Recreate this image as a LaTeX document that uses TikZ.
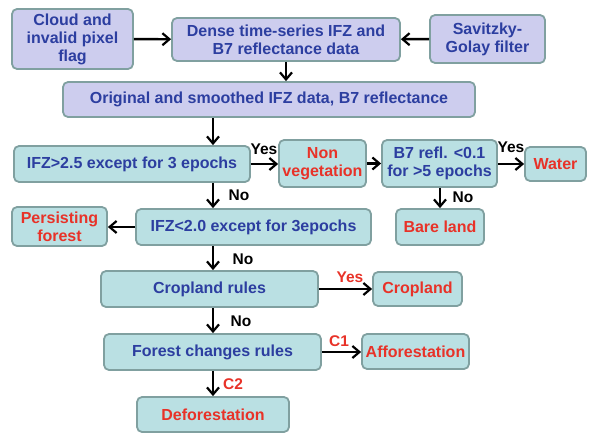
\documentclass[tikz,border=0pt]{standalone}
\usepackage{fontspec}
\setmainfont{Liberation Sans}
\usetikzlibrary{arrows.meta}
\definecolor{lav}{RGB}{205,205,238}
\definecolor{teal1}{RGB}{186,224,227}
\definecolor{bord}{RGB}{128,160,160}
\definecolor{tblue}{RGB}{44,62,160}
\definecolor{tred}{RGB}{232,50,40}
\tikzset{
  box/.style={draw=bord, line width=1.8pt, rounded corners=5pt, align=center, font=\bfseries\fontsize{16}{18}\selectfont, inner sep=0pt, anchor=center},
  pbox/.style={box, fill=lav, text=tblue},
  tbox/.style={box, fill=teal1, text=tblue},
  rbox/.style={box, fill=teal1, text=tred},
  arr/.style={line width=2.4pt, -{Straight Barb[length=7pt,width=12pt,line width=2.2pt]}},
  lbl/.style={font=\bfseries\fontsize{15.5}{16}\selectfont, text=black, inner sep=0pt},
  rlbl/.style={lbl, text=tred}
}
\begin{document}
\begin{tikzpicture}[x=1pt,y=-1pt]
\useasboundingbox (0,0) rectangle (589,433);
\node[pbox, minimum width=121pt, minimum height=60pt] (cloud) at (72.5,39) {Cloud and\\invalid pixel\\flag};
\node[pbox, minimum width=228pt, minimum height=43pt] (dense) at (286,39.5) {Dense time-series IFZ and\\B7 reflectance data};
\node[pbox, minimum width=115pt, minimum height=48pt] (sg) at (487.5,39) {Savitzky-\\Golay filter};
\node[pbox, minimum width=412pt, minimum height=35pt] (orig) at (269,99.5) {Original and smoothed IFZ data, B7 reflectance};
\node[tbox, minimum width=236pt, minimum height=36pt] (ifz1) at (132,164) {IFZ>2.5 except for 3 epochs};
\node[rbox, minimum width=87pt, minimum height=47pt] (nonveg) at (322.5,163.5) {Non\\vegetation};
\node[tbox, minimum width=115pt, minimum height=47pt] (b7) at (439.5,163.5) {B7 refl. <0.1\\for >5 epochs};
\node[rbox, minimum width=61pt, minimum height=34pt] (water) at (555.5,164) {Water};
\node[rbox, minimum width=95pt, minimum height=39pt] (pers) at (59.5,226.5) {Persisting\\forest};
\node[tbox, minimum width=235pt, minimum height=36pt] (ifz2) at (253.5,227) {IFZ<2.0 except for 3epochs};
\node[rbox, minimum width=88pt, minimum height=36pt] (bare) at (440,227) {Bare land};
\node[tbox, minimum width=217pt, minimum height=36pt] (crules) at (209.5,289) {Cropland rules};
\node[rbox, minimum width=89pt, minimum height=34pt] (crop) at (417.5,289) {Cropland};
\node[tbox, minimum width=217pt, minimum height=36pt] (frules) at (212.5,352) {Forest changes rules};
\node[rbox, minimum width=107pt, minimum height=35pt] (aff) at (415.5,351.5) {Afforestation};
\node[rbox, minimum width=152pt, minimum height=35pt] (def) at (213,414.5) {Deforestation};

\draw[arr] (cloud) -- (dense);
\draw[arr] (sg) -- (dense);
\draw[arr] (dense.south) -- (orig.north -| dense.south);
\draw[arr] (orig.south -| 213,0) -- (ifz1.north -| 213,0);
\draw[arr] (ifz1.east) -- (nonveg.west |- ifz1.east);
\draw[arr] (nonveg.east) -- (b7.west);
\draw[arr] (b7.east |- water.west) -- (water.west);
\draw[arr] (b7.south -| bare.north) -- (bare.north);
\draw[arr] (ifz1.south -| 213,0) -- (ifz2.north -| 213,0);
\draw[arr] (ifz2.west) -- (pers.east |- ifz2.west);
\draw[arr] (ifz2.south -| 213,0) -- (crules.north -| 213,0);
\draw[arr] (crules.east) -- (crop.west |- crules.east);
\draw[arr] (crules.south -| 213,0) -- (frules.north -| 213,0);
\draw[arr] (frules.east) -- (aff.west |- frules.east);
\draw[arr] (frules.south -| 213,0) -- (def.north -| 213,0);

\node[lbl] (l1) at (264,149) {Yes};
\node[lbl] (l2) at (239,195) {No};
\node[lbl] (l3) at (511,147) {Yes};
\node[lbl] (l4) at (463,197) {No};
\node[lbl] (l5) at (243,259) {No};
\node[rlbl] (l6) at (350,277) {Yes};
\node[lbl] (l7) at (241,321) {No};
\node[rlbl] (l8) at (339,341) {C1};
\node[rlbl] (l9) at (233,384) {C2};
\end{tikzpicture}
\end{document}
